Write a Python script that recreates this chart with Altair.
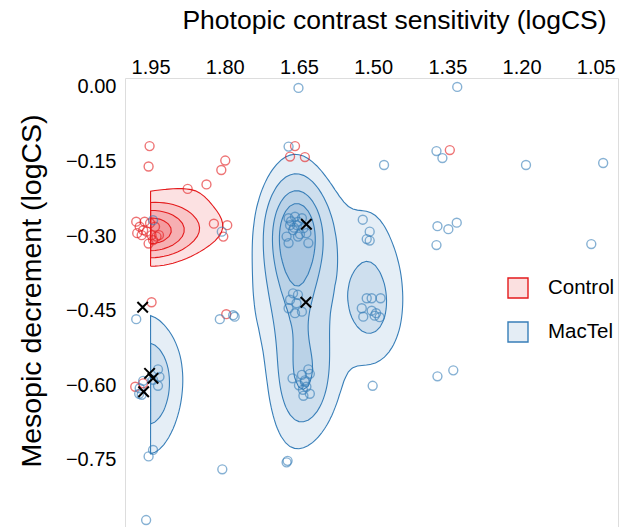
import numpy as np
import pandas as pd
import altair as alt

# ---------------- data (positions as plotted) ----------------
control_x = [1.952, 1.954, 1.799, 1.807, 1.875, 1.837, 1.822, 1.795, 1.803,
             1.979, 1.972, 1.962, 1.951, 1.941, 1.977, 1.968, 1.958, 1.948, 1.938,
             1.933, 1.954, 1.945, 1.965,
             1.948, 1.797, 1.981, 1.965, 1.658, 1.668, 1.638, 1.345]
control_y = [-0.119, -0.160, -0.148, -0.167, -0.205, -0.196, -0.275, -0.278, -0.301,
             -0.271, -0.281, -0.271, -0.274, -0.281, -0.294, -0.298, -0.291, -0.298, -0.301,
             -0.298, -0.315, -0.308, -0.288,
             -0.433, -0.457, -0.603, -0.596, -0.119, -0.140, -0.141, -0.127]

mactel_x = [1.945, 1.806, 1.979, 1.810, 1.783, 1.780,
            1.935, 1.932, 1.935, 1.945, 1.965, 1.972, 1.973, 1.968,
            1.954, 1.945, 1.805, 1.959, 1.671,
            1.671, 1.658, 1.668, 1.652, 1.641, 1.662, 1.675, 1.635, 1.631, 1.671, 1.652, 1.644,
            1.660, 1.648, 1.666, 1.654,
            1.662, 1.652, 1.668, 1.655, 1.671, 1.658, 1.644,
            1.631, 1.628, 1.644, 1.663, 1.638, 1.635, 1.642, 1.628, 1.641, 1.638, 1.650,
            1.673, 1.675,
            1.521, 1.507, 1.513, 1.507,
            1.513, 1.503, 1.485, 1.523, 1.503, 1.494, 1.520, 1.497, 1.487,
            1.370, 1.348, 1.331, 1.372, 1.501, 1.370, 1.338,
            1.330, 1.372, 1.360, 1.478, 1.191, 1.035, 1.651, 1.059]
mactel_y = [-0.268, -0.291, -0.467, -0.467, -0.459, -0.462,
            -0.568, -0.583, -0.601, -0.589, -0.591, -0.606, -0.617, -0.619,
            -0.743, -0.730, -0.769, -0.871, -0.120,
            -0.264, -0.261, -0.278, -0.271, -0.284, -0.288, -0.301, -0.294, -0.314, -0.314, -0.301, -0.264,
            -0.283, -0.296, -0.270, -0.278,
            -0.415, -0.418, -0.428, -0.435, -0.445, -0.455, -0.452,
            -0.568, -0.577, -0.579, -0.586, -0.593, -0.603, -0.609, -0.617, -0.621, -0.590, -0.600,
            -0.752, -0.755,
            -0.267, -0.291, -0.306, -0.309,
            -0.425, -0.425, -0.425, -0.445, -0.450, -0.455, -0.462, -0.460, -0.463,
            -0.280, -0.286, -0.273, -0.318, -0.601, -0.582, -0.570,
            0.000, -0.129, -0.143, -0.157, -0.157, -0.153, -0.002, -0.316]

# highlighted MacTel patients (black crosses)
marked_x = [1.966, 1.952, 1.945, 1.964, 1.635, 1.636]
marked_y = [-0.443, -0.576, -0.586, -0.613, -0.276, -0.433]

groups = ["Control", "MacTel"]
colors = ["#E41A1C", "#377EB8"]
x_ticks = [1.95, 1.80, 1.65, 1.50, 1.35, 1.20, 1.05]
y_ticks = [0.00, -0.15, -0.30, -0.45, -0.60, -0.75]

# density settings (bandwidth h = 4 * kernel sd, as in MASS::kde2d)
bandwidth = {"Control": (0.28, 0.176), "MacTel": (0.20, 0.34)}
level_fracs = {"Control": [0.33, 0.52, 0.7, 0.86], "MacTel": [0.27, 0.45, 0.65, 0.8]}
step = 0.05
grid_n = 100

# ---------------- 2-D density + contour polygons ----------------
data = {"Control": (np.array(control_x), np.array(control_y)),
        "MacTel": (np.array(mactel_x + marked_x), np.array(mactel_y + marked_y))}
ally = np.array(control_y + mactel_y)
x_lo, x_hi = min(x_ticks), max(x_ticks)
y_lo, y_hi = np.round(ally.min() / step) * step, np.round(ally.max() / step) * step


def kde2d(x, y, hx, hy, gx, gy):
    sx, sy = hx / 4, hy / 4
    ax = np.exp(-0.5 * ((gx[:, None] - x[None, :]) / sx) ** 2)
    ay = np.exp(-0.5 * ((gy[:, None] - y[None, :]) / sy) ** 2)
    return (ay @ ax.T) / (len(x) * 2 * np.pi * sx * sy)


def iso_polys(Z, xs, ys, level):
    ny, nx = Z.shape
    B = Z > level

    def pt(e):
        kind, j, i = e
        if kind == "h":
            z0, z1 = Z[j, i], Z[j, i + 1]
            t = (level - z0) / (z1 - z0)
            return xs[i] + t * (xs[i + 1] - xs[i]), ys[j]
        z0, z1 = Z[j, i], Z[j + 1, i]
        t = (level - z0) / (z1 - z0)
        return xs[i], ys[j] + t * (ys[j + 1] - ys[j])

    adj = {}

    def link(e1, e2):
        adj.setdefault(e1, []).append(e2)
        adj.setdefault(e2, []).append(e1)

    for j in range(ny - 1):
        for i in range(nx - 1):
            a, b, c, d = B[j, i], B[j, i + 1], B[j + 1, i + 1], B[j + 1, i]
            if a == b == c == d:
                continue
            eb, er, et, el = ("h", j, i), ("v", j, i + 1), ("h", j + 1, i), ("v", j, i)
            cross = []
            if a != b: cross.append(eb)
            if b != c: cross.append(er)
            if c != d: cross.append(et)
            if d != a: cross.append(el)
            if len(cross) == 2:
                link(cross[0], cross[1])
            else:
                center = (Z[j, i] + Z[j, i + 1] + Z[j + 1, i + 1] + Z[j + 1, i]) / 4 > level
                if center == a:
                    link(eb, er); link(et, el)
                else:
                    link(el, eb); link(er, et)
    visited, polys = set(), []
    for start in adj:
        if start in visited:
            continue
        loop, cur = [start], start
        visited.add(start)
        while True:
            nxt = None
            for n in adj[cur]:
                if n not in visited:
                    nxt = n
                    break
            if nxt is None:
                break
            loop.append(nxt); visited.add(nxt); cur = nxt
        pts = [pt(e) for e in loop]
        pts.append(pts[0])
        polys.append(pts)
    return polys


rows = []
pid = 0
gx = np.linspace(x_lo, x_hi, grid_n)
gy = np.linspace(y_lo, y_hi, grid_n)
eps = 1e-6
gxp = np.concatenate([[x_lo - eps], gx, [x_hi + eps]])
gyp = np.concatenate([[y_lo - eps], gy, [y_hi + eps]])
for g in groups:
    x, y = data[g]
    hx, hy = bandwidth[g]
    Z = kde2d(x, y, hx, hy, gx, gy)
    Zp = np.zeros((grid_n + 2, grid_n + 2))
    Zp[1:-1, 1:-1] = Z
    for lv, f in enumerate(level_fracs[g]):
        for poly in iso_polys(Zp, gxp, gyp, f * Z.max()):
            for k, (px, py) in enumerate(poly):
                rows.append({"group": g, "gfill": g + " ", "level": lv, "pid": pid, "idx": k,
                             "x": px, "y": py})
            pid += 1
contours = pd.DataFrame(rows)

points = pd.DataFrame({
    "group": ["Control"] * len(control_x) + ["MacTel"] * len(mactel_x),
    "x": control_x + mactel_x,
    "y": control_y + mactel_y,
})
marked = pd.DataFrame({"x": marked_x, "y": marked_y})

# ---------------- chart ----------------
FONT = "Liberation Sans"
sx = alt.Scale(domain=[1.005, 2.0017], reverse=True, nice=False, zero=False)
sy = alt.Scale(domain=[-0.885, 0.018], nice=False, zero=False)
grp_scale = alt.Scale(domain=groups, range=colors)
fill_scale = alt.Scale(domain=[g + " " for g in groups], range=colors)

x_axis = alt.Axis(orient="top", values=x_ticks, format=".2f", domain=False, ticks=False, grid=False,
                  labelFontSize=20, labelPadding=5, labelBaseline="alphabetic", labelColor="#000000",
                  title="Photopic contrast sensitivity (logCS)", titleFontSize=26.5, titleFontWeight="normal",
                  titleX=269, titleY=-50, titleAlign="center", titleBaseline="alphabetic", titleColor="#000000")
y_axis = alt.Axis(values=y_ticks, format=".2f", domain=False, ticks=False, grid=False,
                  labelFontSize=20, labelPadding=9, labelColor="#000000",
                  title="Mesopic decrement (logCS)", titleFontSize=28.5, titleFontWeight="normal",
                  titleX=-94, titleY=212.5, titleAlign="center", titleBaseline="middle", titleAngle=-90,
                  titleColor="#000000")

legend_fill = alt.Legend(title=None, orient="none", legendX=382, legendY=199, symbolType="square",
                         symbolSize=400, symbolStrokeWidth=1.4, symbolStrokeColor="transparent",
                         symbolOpacity=0.13, labelFontSize=20.5, labelOffset=19, rowPadding=18,
                         padding=0, labelExpr="''")
legend_stroke = alt.Legend(title=None, orient="none", legendX=382, legendY=199, symbolType="square",
                           symbolSize=400, symbolStrokeWidth=1.4, symbolFillColor="transparent",
                           labelFontSize=20.5, labelOffset=19, rowPadding=18, padding=0,
                           labelColor="#000000")

dens = alt.Chart(contours).mark_line(fillOpacity=0.13, strokeWidth=1.1, clip=True).encode(
    x=alt.X("x:Q", scale=sx, axis=x_axis),
    y=alt.Y("y:Q", scale=sy, axis=y_axis),
    fill=alt.Fill("gfill:N", scale=fill_scale, legend=legend_fill),
    stroke=alt.Stroke("group:N", scale=grp_scale, legend=legend_stroke),
    detail="pid:N",
    order="idx:Q",
)

pts = alt.Chart(points).mark_point(shape="circle", filled=False, size=80, strokeWidth=1.4, opacity=0.6).encode(
    x=alt.X("x:Q", scale=sx),
    y=alt.Y("y:Q", scale=sy),
    color=alt.Color("group:N", scale=grp_scale, legend=None),
)

xs = alt.Chart(marked).mark_point(shape="M-1,-1L1,1M-1,1L1,-1", filled=False, size=110,
                                  strokeWidth=2, color="#000000", opacity=1).encode(
    x=alt.X("x:Q", scale=sx),
    y=alt.Y("y:Q", scale=sy),
)

chart = alt.layer(dens, pts, xs).properties(
    width=493, height=449,
    autosize=alt.AutoSizeParams(type="none"),
    padding={"left": 125, "top": 78, "right": 1, "bottom": 0},
    background="#ffffff",
).configure_view(stroke=None).configure(font=FONT)

chart.save("out.html", embed_options={"renderer": "svg", "actions": False})
